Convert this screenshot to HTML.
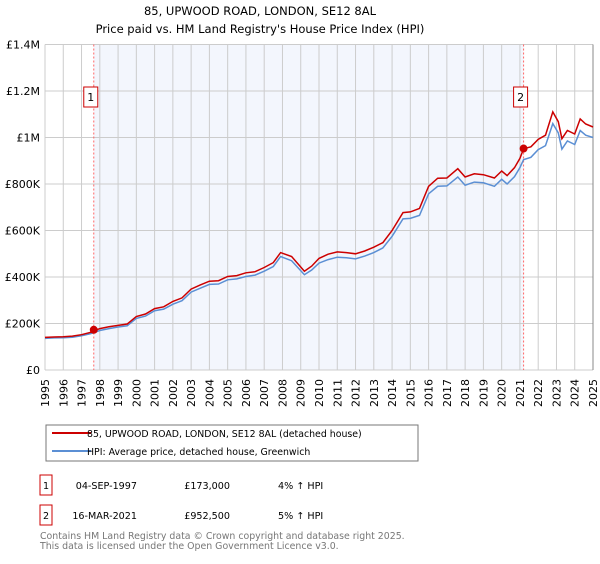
<!DOCTYPE html>
<html><head><meta charset="utf-8"><style>
body{margin:0;background:#fff;font-family:"DejaVu Sans","Liberation Sans",sans-serif;}
svg text{font-family:"DejaVu Sans","Liberation Sans",sans-serif;}
</style></head><body>
<svg id="chart" width="600" height="560" viewBox="0 0 600 560" xmlns="http://www.w3.org/2000/svg">
<text x="260" y="15" font-size="11.5" text-anchor="middle" fill="#000">85, UPWOOD ROAD, LONDON, SE12 8AL</text>
<text x="260" y="33" font-size="11.5" text-anchor="middle" fill="#000">Price paid vs. HM Land Registry's House Price Index (HPI)</text>
<g id="plot"></g>
<g>
<rect x="46" y="425" width="372" height="36" fill="#fff" stroke="#777"/>
<line x1="52" y1="433" x2="91" y2="433" stroke="#cc0000" stroke-width="2"/>
<text x="87" y="437" font-size="9.4">85, UPWOOD ROAD, LONDON, SE12 8AL (detached house)</text>
<line x1="52" y1="451" x2="91" y2="451" stroke="#5b8fd4" stroke-width="2"/>
<text x="87" y="455" font-size="9.4">HPI: Average price, detached house, Greenwich</text>
</g>
<g font-size="9.6">
<rect x="40" y="475" width="12" height="20" fill="#fff" stroke="#cc0000"/>
<text x="46" y="489" text-anchor="middle">1</text>
<text x="137" y="489" text-anchor="end">04-SEP-1997</text>
<text x="230" y="489" text-anchor="end">£173,000</text>
<text x="278" y="489">4% ↑ HPI</text>
<rect x="40" y="505" width="12" height="20" fill="#fff" stroke="#cc0000"/>
<text x="46" y="519" text-anchor="middle">2</text>
<text x="137" y="519" text-anchor="end">16-MAR-2021</text>
<text x="230" y="519" text-anchor="end">£952,500</text>
<text x="278" y="519">5% ↑ HPI</text>
</g>
<text x="40" y="539" font-size="9.4" fill="#777">Contains HM Land Registry data © Crown copyright and database right 2025.</text>
<text x="40" y="549" font-size="9.4" fill="#777">This data is licensed under the Open Government Licence v3.0.</text>
</svg>
<script>
const years=[1995,1995.5,1996,1996.5,1997,1997.5,1998,1998.5,1999,1999.5,2000,2000.5,2001,2001.5,2002,2002.5,2003,2003.5,2004,2004.5,2005,2005.5,2006,2006.5,2007,2007.5,2007.9,2008.5,2009.2,2009.6,2010,2010.5,2011,2011.5,2012,2012.5,2013,2013.5,2014,2014.6,2015,2015.5,2016,2016.5,2017,2017.6,2018,2018.5,2019,2019.6,2020,2020.3,2020.7,2021,2021.2,2021.6,2022,2022.4,2022.8,2023.1,2023.3,2023.6,2024,2024.3,2024.6,2025];
const hpi=[136,138,139,141,147,156,170,178,185,190,222,232,255,262,283,298,335,352,368,370,388,392,402,408,425,445,488,470,410,430,460,475,485,483,478,490,505,525,575,650,652,665,758,790,792,830,795,808,805,790,820,800,832,870,905,915,948,965,1060,1020,950,985,970,1030,1010,1000];
const paid=[140,142,143,146,152,162,178,186,192,198,230,241,264,272,295,310,348,366,382,384,402,406,418,423,441,462,505,488,425,447,480,498,508,505,500,512,528,548,600,677,680,695,790,825,826,866,830,844,840,826,856,836,870,910,952,960,992,1010,1110,1068,995,1030,1015,1080,1058,1045];
const yTicks=[0,200,400,600,800,1000,1200,1400];
const yTickLabels=["£0","£200K","£400K","£600K","£800K","£1M","£1.2M","£1.4M"];
const sales=[{t:1997.67,v:173,label:"1"},{t:2021.2,v:952.5,label:"2"}];
const NS="http://www.w3.org/2000/svg";
const X0=45,X1=593,Y0=370,Y1=44.5;
const xs=t=>X0+(t-1995)/30*(X1-X0);
const ys=v=>Y0-v/1400*(Y0-Y1);
const g=document.getElementById('plot');
function mk(tag,attrs){const e=document.createElementNS(NS,tag);for(const k in attrs)e.setAttribute(k,attrs[k]);g.appendChild(e);return e;}
let e=mk('rect',{x:xs(sales[0].t),y:Y1,width:xs(sales[1].t)-xs(sales[0].t),height:Y0-Y1,fill:'#f3f6fd'});


for(let yr=1995;yr<=2025;yr++){
 e=mk('line',{x1:xs(yr),x2:xs(yr),y1:Y1,y2:Y0,stroke:'#cccccc','stroke-width':1});
 
 
 e=mk('text',{transform:`translate(${xs(yr)+4},${Y0+23}) rotate(-90)`,'font-size':11,'text-anchor':'middle'});
 e.textContent=yr;
 
 
}
yTicks.forEach((v,i)=>{
 e=mk('line',{x1:X0,x2:X1,y1:ys(v),y2:ys(v),stroke:'#cccccc','stroke-width':1});
 
 
 e=mk('text',{x:X0-5,y:ys(v)+4,'font-size':11,'text-anchor':'end'});
 e.textContent=yTickLabels[i];
 
 
});
e=mk('line',{x1:X1,x2:X1,y1:Y1,y2:Y0,stroke:'#888','stroke-width':1});


sales.forEach(s=>{
 e=mk('line',{x1:xs(s.t),x2:xs(s.t),y1:Y1,y2:Y0,stroke:'#ff6666','stroke-width':1,'stroke-dasharray':'2,2'});
 
 
});
const pts=a=>a.map((v,i)=>xs(years[i]).toFixed(1)+','+ys(v).toFixed(1)).join(' ');
e=mk('polyline',{points:pts(hpi),fill:'none',stroke:'#5b8fd4','stroke-width':1.5});


e=mk('polyline',{points:pts(paid),fill:'none',stroke:'#cc0000','stroke-width':1.5});


sales.forEach(s=>{
 e=mk('circle',{cx:xs(s.t),cy:ys(s.v),r:4,fill:'#cc0000'});
 
 
 e=mk('rect',{x:xs(s.t)-10,y:87,width:14,height:20,fill:'#fff',stroke:'#cc0000'});
 
 
 e=mk('text',{x:xs(s.t)-3,y:101,'font-size':11,'text-anchor':'middle'});
 e.textContent=s.label;
 
 
});
</script>
</body></html>
